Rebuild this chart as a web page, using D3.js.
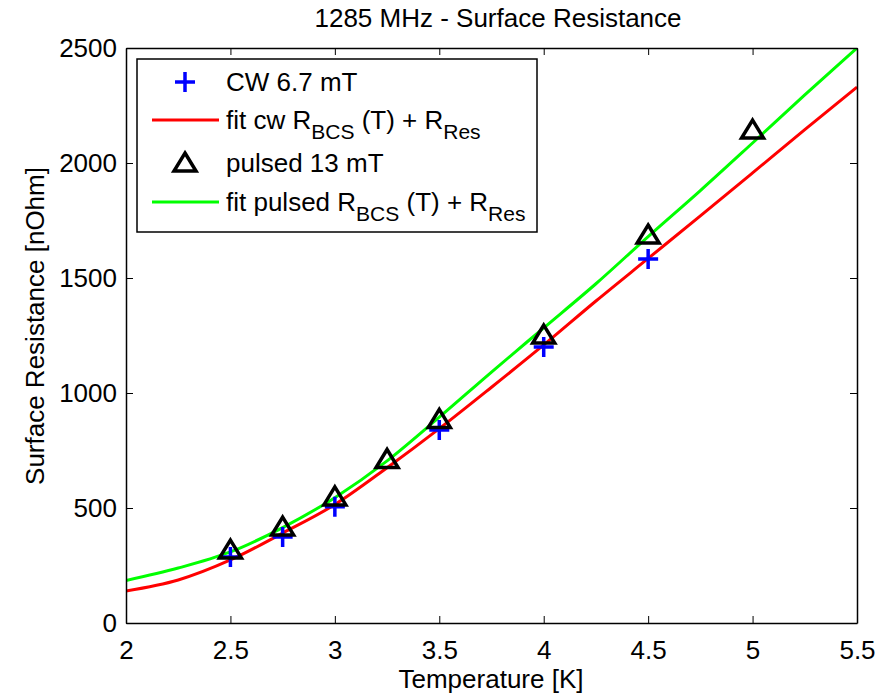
<!DOCTYPE html>
<html>
<head>
<meta charset="utf-8">
<script src="https://cdn.jsdelivr.net/npm/d3@7"></script>
<style>
  body { margin: 0; background: #fff; }
  svg { font-family: "Liberation Sans", Arial, sans-serif; }
</style>
</head>
<body>
<svg id="chart" width="891" height="694"></svg>
<script>
// measured points
const cwT = [2.5, 2.75, 3.0, 3.5, 4.0, 4.5];
const cwR = [287, 374, 505, 839, 1200, 1583];
const pulsedT = [2.5, 2.75, 3.0, 3.25, 3.5, 4.0, 4.5, 5.0];
const pulsedR = [317, 417, 548, 711, 885, 1252, 1687, 2143];

// fit curves
const fitT = [2.0, 2.25, 2.5, 2.75, 3.0, 3.25, 3.5, 3.75, 4.0, 4.25, 4.5, 4.75, 5.0, 5.25, 5.5];
const fitCw = [139, 187, 274, 391, 515, 675, 845, 1025, 1209, 1400, 1585, 1770, 1957, 2145, 2330];
const fitPulsed = [185, 239, 309, 415, 545, 705, 895, 1091, 1283, 1475, 1680, 1880, 2087, 2296, 2500];

const xTicks = [2, 2.5, 3, 3.5, 4, 4.5, 5, 5.5];
const yTicks = [0, 500, 1000, 1500, 2000, 2500];

const svg = d3.select('#chart');
const plotL = 126, plotR = 857, plotT = 48, plotB = 623;
const fs = 26;

const x = d3.scaleLinear().domain([2, 5.5]).range([plotL, plotR]);
const y = d3.scaleLinear().domain([0, 2500]).range([plotB, plotT]);

svg.append('defs').append('clipPath').attr('id', 'plot-clip')
  .append('rect')
  .attr('x', plotL).attr('y', plotT)
  .attr('width', plotR - plotL).attr('height', plotB - plotT);

// fit lines
const line = d3.line()
  .x(d => x(d[0]))
  .y(d => y(d[1]))
  .curve(d3.curveMonotoneX);

const plot = svg.append('g').attr('clip-path', 'url(#plot-clip)');

plot.append('path')
  .datum(fitT.map((t, i) => [t, fitCw[i]]))
  .attr('d', line)
  .attr('fill', 'none')
  .attr('stroke', '#ff0000')
  .attr('stroke-width', 3);

plot.append('path')
  .datum(fitT.map((t, i) => [t, fitPulsed[i]]))
  .attr('d', line)
  .attr('fill', 'none')
  .attr('stroke', '#00ff00')
  .attr('stroke-width', 3);

// markers
const plusPath = 'M-10,0H10M0,-10V10';
const triPath = 'M0,-10L11,8L-11,8Z';

svg.append('g').selectAll('path')
  .data(cwT.map((t, i) => [t, cwR[i]]))
  .join('path')
  .attr('transform', d => `translate(${x(d[0])},${y(d[1])})`)
  .attr('d', plusPath)
  .attr('fill', 'none')
  .attr('stroke', '#0000ff')
  .attr('stroke-width', 3.5);

svg.append('g').selectAll('path')
  .data(pulsedT.map((t, i) => [t, pulsedR[i]]))
  .join('path')
  .attr('transform', d => `translate(${x(d[0])},${y(d[1])})`)
  .attr('d', triPath)
  .attr('fill', 'none')
  .attr('stroke', '#000')
  .attr('stroke-width', 3.5);

// axes, ticks inward on all four sides
const styleAxis = g => {
  g.attr('font-family', null).attr('font-size', null);
  g.select('.domain').attr('stroke', '#000').attr('stroke-width', 1.5);
  g.selectAll('.tick line').attr('stroke', '#000').attr('stroke-width', 1);
  g.selectAll('.tick text').attr('fill', '#000').style('font-size', fs + 'px');
};

svg.append('g')
  .attr('transform', `translate(0,${plotB})`)
  .call(d3.axisBottom(x).tickValues(xTicks).tickFormat(d3.format('')).tickSizeInner(-7).tickSizeOuter(0).tickPadding(18))
  .call(styleAxis);

svg.append('g')
  .attr('transform', `translate(0,${plotT})`)
  .call(d3.axisTop(x).tickValues(xTicks).tickFormat('').tickSizeInner(-7).tickSizeOuter(0))
  .call(styleAxis);

svg.append('g')
  .attr('transform', `translate(${plotL},0)`)
  .call(d3.axisLeft(y).tickValues(yTicks).tickFormat(d3.format('d')).tickSizeInner(-7).tickSizeOuter(0).tickPadding(9))
  .call(styleAxis);

svg.append('g')
  .attr('transform', `translate(${plotR},0)`)
  .call(d3.axisRight(y).tickValues(yTicks).tickFormat('').tickSizeInner(-7).tickSizeOuter(0))
  .call(styleAxis);

// titles
svg.append('text')
  .attr('x', 498).attr('y', 27)
  .attr('text-anchor', 'middle')
  .style('font-size', fs + 'px')
  .text('1285 MHz - Surface Resistance');

svg.append('text')
  .attr('x', 491).attr('y', 688)
  .attr('text-anchor', 'middle')
  .style('font-size', fs + 'px')
  .text('Temperature [K]');

svg.append('text')
  .attr('transform', 'translate(44,326) rotate(-90)')
  .attr('text-anchor', 'middle')
  .style('font-size', fs + 'px')
  .text('Surface Resistance [nOhm]');

// legend
const legend = svg.append('g');
legend.append('rect')
  .attr('x', 137).attr('y', 59)
  .attr('width', 400).attr('height', 173)
  .attr('fill', '#fff')
  .attr('stroke', '#000')
  .attr('stroke-width', 1.5);

const legendItems = [
  { kind: 'plus', color: '#0000ff', y: 82, parts: ['CW 6.7 mT'] },
  { kind: 'line', color: '#ff0000', y: 120, parts: ['fit cw R', 'BCS', ' (T) + R', 'Res'] },
  { kind: 'tri', color: '#000', y: 163, parts: ['pulsed 13 mT'] },
  { kind: 'line', color: '#00ff00', y: 202, parts: ['fit pulsed R', 'BCS', ' (T) + R', 'Res'] }
];

legendItems.forEach(item => {
  if (item.kind === 'line') {
    legend.append('line')
      .attr('x1', 152).attr('x2', 219)
      .attr('y1', item.y).attr('y2', item.y)
      .attr('stroke', item.color).attr('stroke-width', 3);
  } else {
    legend.append('path')
      .attr('transform', `translate(185,${item.y})`)
      .attr('d', item.kind === 'plus' ? plusPath : triPath)
      .attr('fill', 'none')
      .attr('stroke', item.color)
      .attr('stroke-width', 3.5);
  }
  const t = legend.append('text')
    .attr('x', 226).attr('y', item.y + 9)
    .style('font-size', fs + 'px');
  item.parts.forEach((p, i) => {
    const sub = i % 2 === 1;
    t.append('tspan')
      .attr('dy', i === 0 ? 0 : (sub ? 10 : -10))
      .style('font-size', sub ? '21px' : fs + 'px')
      .text(p);
  });
});
</script>
</body>
</html>
